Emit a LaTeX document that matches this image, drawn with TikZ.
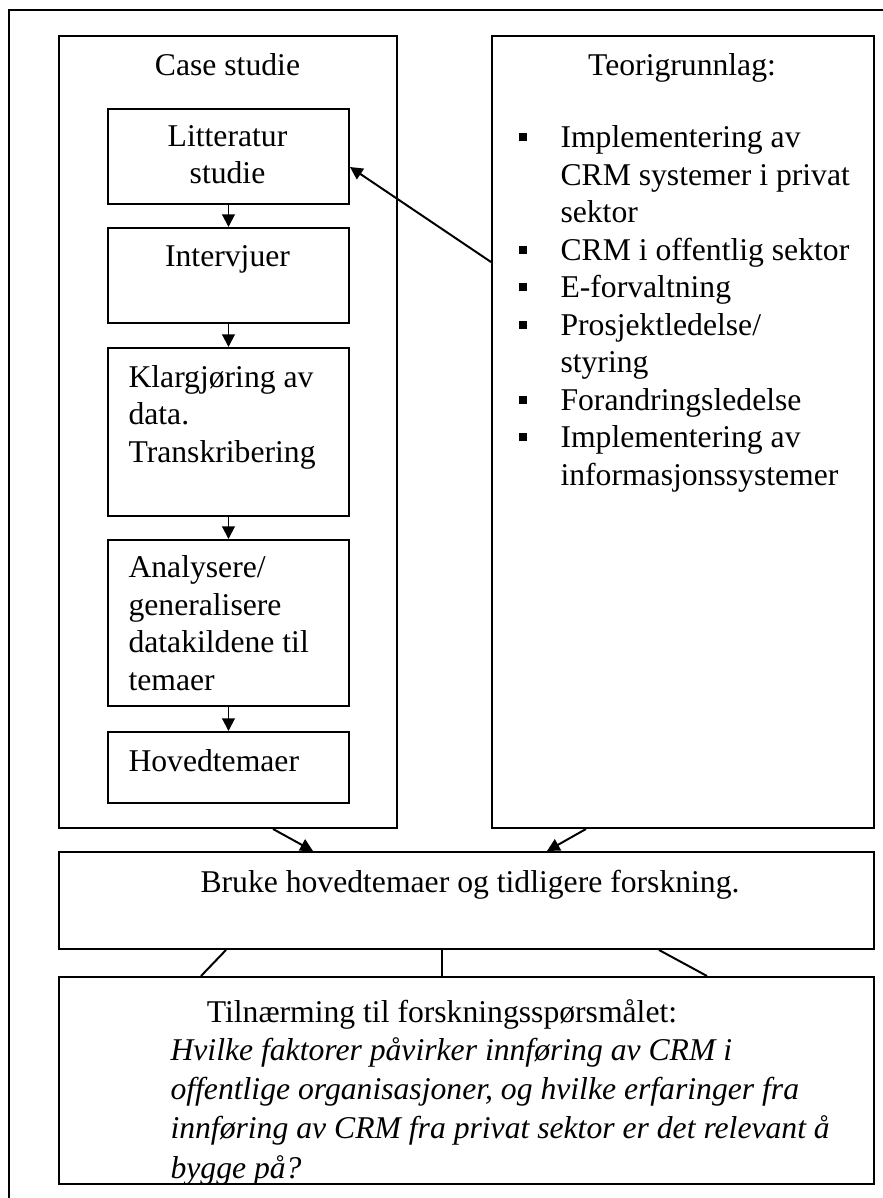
\documentclass[tikz,border=0pt]{standalone}
\usepackage{fontspec}
\setmainfont{Liberation Serif}
\usetikzlibrary{arrows.meta}
\newlength\pxu
\setlength\pxu{0.379pt}
\newcommand\bul{\makebox[42\pxu][l]{\raisebox{2.4pt}{\rule{8\pxu}{8\pxu}}}}
\newcommand\ind{\hspace*{42\pxu}}
\begin{document}
\begin{tikzpicture}[x=0.379pt,y=-0.379pt,
  box/.style={draw,line width=0.75pt,inner sep=0pt,anchor=north west},
  sz/.style 2 args={minimum width={#1*0.379pt},minimum height={#2*0.379pt}},
  txt/.style={font=\fontsize{12pt}{14.2pt}\selectfont,inner sep=0pt},
  conn/.style={line width=0.75pt},
  arr/.style={conn,-{Triangle[length=4.8pt,width=4.8pt]}}]
\useasboundingbox (0,0) rectangle (883,1198);
% outer frame (cropped)
\draw[line width=0.6pt] (9,1198) -- (9,10) -- (883,10);
% boxes
\node[box,sz={338}{792}] (case) at (58,35) {};
\node[box,sz={382}{792}] (teori) at (491,35) {};
\node[box,sz={241}{95}] (lit) at (107,108) {};
\node[box,sz={241}{95}] (int) at (107,227) {};
\node[box,sz={241}{168}] (klar) at (107,347) {};
\node[box,sz={241}{166}] (anal) at (107,539) {};
\node[box,sz={241}{71}] (hoved) at (107,731) {};
\node[box,sz={815}{97}] (bruke) at (58,851) {};
\node[box,sz={815}{207}] (tiln) at (58,976) {};
% texts (multi-line nodes are anchored at the baseline of their last line)
\node[txt,anchor=base] (tcase) at (227.5,76) {Case studie};
\node[txt,anchor=base] (tteori) at (682,76) {Teorigrunnlag:};
\node[txt,anchor=base,align=center] (tlit) at (227.5,184) {Litteratur\\studie};
\node[txt,anchor=base] (tint) at (227.5,267) {Intervjuer};
\node[txt,anchor=base west,align=left] (tklar) at (128,462) {Klargjøring av\\data.\\Transkribering};
\node[txt,anchor=base west,align=left] (tanal) at (128,690) {Analysere/\\generalisere\\datakildene til\\temaer};
\node[txt,anchor=base west] (thoved) at (128,771) {Hovedtemaer};
\node[txt,anchor=base west,align=left] (tlist) at (518,485) {\bul Implementering av\\
\ind CRM systemer i privat\\
\ind sektor\\
\bul CRM i offentlig sektor\\
\bul E-forvaltning\\
\bul Prosjektledelse/\\
\ind styring\\
\bul Forandringsledelse\\
\bul Implementering av\\
\ind informasjonssystemer};
\node[txt,anchor=base] (tbruke) at (470,892) {Bruke hovedtemaer og tidligere forskning.};
\node[txt,anchor=base] (ttiln) at (442,1022) {Tilnærming til forskningsspørsmålet:};
\node[txt,anchor=base west,align=left,font=\fontsize{12pt}{14.8pt}\selectfont\itshape] (tq) at (170,1178) {Hvilke faktorer påvirker innføring av CRM i\\
offentlige organisasjoner, og hvilke erfaringer fra\\
innføring av CRM fra privat sektor er det relevant å\\
bygge på?};
% connectors
\draw[arr] (lit) -- (int);
\draw[arr] (int) -- (klar);
\draw[arr] (klar) -- (anal);
\draw[arr] (anal) -- (hoved);
\coordinate (y1) at (0,262);
\coordinate (y2) at (0,167);
\draw[arr] (teori.west |- y1) -- (lit.east |- y2);
\coordinate (a1) at (273,0);
\coordinate (a2) at (313,0);
\coordinate (b1) at (586,0);
\coordinate (b2) at (547,0);
\draw[arr] (case.south -| a1) -- (bruke.north -| a2);
\draw[arr] (teori.south -| b1) -- (bruke.north -| b2);
\coordinate (c1) at (226,0);
\coordinate (c2) at (201,0);
\coordinate (m1) at (442,0);
\coordinate (d1) at (659,0);
\coordinate (d2) at (707,0);
\draw[conn] (bruke.south -| c1) -- (tiln.north -| c2);
\draw[conn] (bruke.south -| m1) -- (tiln.north -| m1);
\draw[conn] (bruke.south -| d1) -- (tiln.north -| d2);
\end{tikzpicture}
\end{document}
